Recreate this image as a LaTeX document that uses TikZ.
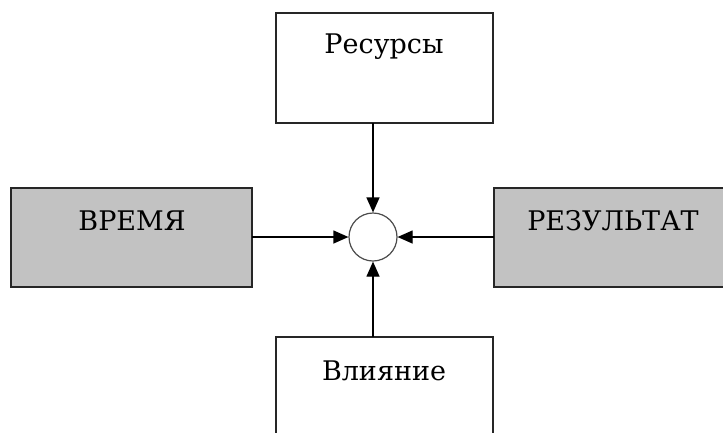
\documentclass[tikz,border=0pt]{standalone}
\usepackage{fontspec}
\setmainfont{DejaVu Serif}
\usetikzlibrary{arrows.meta}
\begin{document}
\begin{tikzpicture}[x=1pt,y=-1pt,
  boxline/.style={draw=black!85,line width=1.5pt},
  graybox/.style={boxline,fill=gray!50!white!95},
  lbl/.style={font=\fontsize{27}{32}\selectfont,anchor=base,inner sep=0pt},
  conn/.style={line width=1.2pt,-{Triangle[length=15pt,width=13pt]}}]
\useasboundingbox (0,0) rectangle (723,432);
\fill[white] (0,0) rectangle (723,432);
\draw[boxline] (276,13) rectangle (493,123);
\coordinate (topS) at (373,123);
\draw[graybox] (11,188) rectangle (252,287);
\coordinate (leftE) at (252,237);
\draw[graybox] (494,188) rectangle (735,287);
\coordinate (rightW) at (494,237);
\draw[boxline] (276,337) rectangle (493,445);
\coordinate (botN) at (373,337);
\node[circle,draw=black!70,line width=1.2pt,minimum size=48pt,inner sep=0pt] (circ) at (373,237) {};
\node[lbl] (t1) at (384,53) {Ресурсы};
\node[lbl] (t2) at (132,230) {ВРЕМЯ};
\node[lbl] (t3) at (613,230) {РЕЗУЛЬТАТ};
\node[lbl] (t4) at (384,380) {Влияние};
\draw[conn] (topS) -- (circ.north);
\draw[conn] (leftE) -- (circ.west);
\draw[conn] (rightW) -- (circ.east);
\draw[conn] (botN) -- (circ.south);
\end{tikzpicture}
\end{document}
